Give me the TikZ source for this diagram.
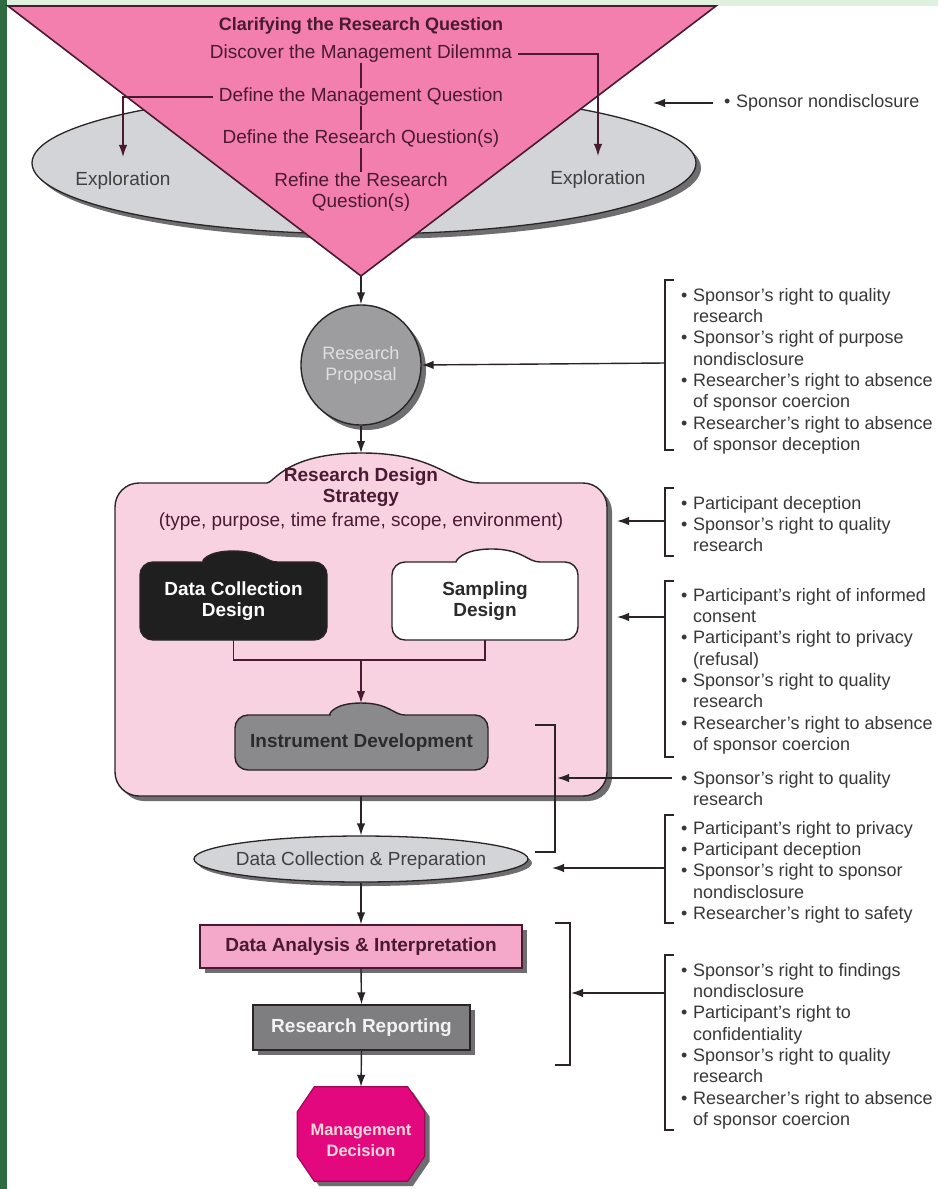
\documentclass[tikz,border=0pt]{standalone}
\usepackage{fontspec}
\setmainfont{Liberation Sans}
\usetikzlibrary{arrows.meta,shapes.geometric,shadows,calc}

\definecolor{bgstrip}{HTML}{2E6B40}
\definecolor{bgband}{HTML}{DDF1DD}
\definecolor{tripink}{HTML}{F27FAE}
\definecolor{maroon}{HTML}{4A1A32}
\definecolor{ink}{HTML}{2A2427}
\definecolor{explgray}{HTML}{D2D4D7}
\definecolor{shadowgray}{HTML}{6E6E70}
\definecolor{propgray}{HTML}{9D9DA0}
\definecolor{strpink}{HTML}{F9D2E2}
\definecolor{idgray}{HTML}{8A8A8D}
\definecolor{dapink}{HTML}{F4A8CA}
\definecolor{rrgray}{HTML}{7E7E81}
\definecolor{mdmagenta}{HTML}{E4087F}
\definecolor{listink}{HTML}{383838}
\definecolor{boxink}{HTML}{2B2B2B}

\newcommand\fsz[2]{\fontsize{#1}{#2}\selectfont}
\newcommand\bl{\makebox[12pt][l]{•}}
\newcommand\ct{\hspace*{12pt}}

% rounded box with a dome on its top edge
% #1 style, #2 x1, #3 y1, #4 x2, #5 y2, #6 dome x1, #7 dome x2, #8 dome top, #9 corner radius
\newcommand\domebox[9]{%
  \path[#1, rounded corners=#9pt] (#7,#3) -- (#4,#3) -- (#4,#5) -- (#2,#5) -- (#2,#3) -- (#6,#3)
    [sharp corners] .. controls ({#6+0.13*(#7-#6)},#3) and ({#6+0.18*(#7-#6)},#8) .. ({0.5*(#6+#7)},#8)
    .. controls ({#7-0.18*(#7-#6)},#8) and ({#7-0.13*(#7-#6)},#3) .. (#7,#3) -- cycle;}

\tikzset{
  ln/.style={draw=ink, line width=1.4pt},
  tln/.style={draw=maroon, line width=1.3pt},
  arr/.style={ln, -{Latex[length=12pt,width=8.5pt]}},
  tarr/.style={tln, -{Latex[length=12pt,width=8.5pt]}},
  brk/.style={draw=ink, line width=1.3pt},
  shd/.style={drop shadow={shadow xshift=5pt, shadow yshift=-5pt, fill=shadowgray, opacity=1}},
  lbl/.style={font=\fsz{19}{21}, align=center, inner sep=0pt},
  blbl/.style={font=\fsz{19}{21}\bfseries, align=center, inner sep=0pt},
  tri/.style={lbl, text=maroon, inner xsep=6pt},
  listtxt/.style={font=\fsz{18}{21.3}, text=listink, align=left, inner sep=0pt, anchor=north west},
}

\begin{document}
\begin{tikzpicture}[x=1pt,y=-1pt]
\useasboundingbox (0,0) rectangle (938,1189);
\fill[white] (0,0) rectangle (938,1189);
\fill[bgband] (0,0) rectangle (938,6);
\fill[bgstrip] (0,0) rectangle (7,1189);

% exploration ellipse behind the funnel
\node[ellipse, minimum width=664pt, minimum height=142pt, inner sep=0pt, fill=explgray,
      draw=ink, line width=1.3pt, shd] (expl) at (364,163) {};

% funnel
\path[fill=tripink, draw=maroon, line width=1.6pt] (8,6) -- (716,6) -- (361,276) -- cycle;
\coordinate (apex) at (361,276);

\node[blbl, font=\fsz{18}{21}\bfseries, text=maroon] (title) at (361,26) {Clarifying the Research Question};
\node[tri] (dil) at (361,54) {Discover the Management Dilemma};
\node[tri] (mq) at (361,97) {Define the Management Question};
\node[tri] (rq) at (361,139) {Define the Research Question(s)};
\node[tri] (ref) at (361,192) {Refine the Research\\Question(s)};

\draw[tln] (dil.south) -- (mq.north);
\draw[tln] (mq.south) -- (rq.north);
\draw[tln] (rq.south) -- (ref.north);

\node[lbl, text=boxink!90] (exl) at (123,181) {Exploration};
\node[lbl, text=boxink!90] (exr) at (598,180) {Exploration};
\draw[tarr] (mq.west) -| ($(exl.north)+(0,-15)$);
\draw[tarr] (dil.east) -| ($(exr.north)+(0,-15)$);

\node[listtxt, anchor=west] (l0) at (724,103) {\bl Sponsor nondisclosure};
\coordinate (t0) at (653,103);
\draw[arr, shorten <=11pt] (l0.west) -- (t0);

% research proposal
\node[circle, minimum size=120pt, inner sep=0pt, fill=propgray, draw=ink, line width=1.4pt, shd,
      lbl, font=\fsz{18}{21}, text=white!88!black] (prop) at (361,365) {Research\\Proposal};
\draw[arr] (apex) -- (prop.north);

% research design strategy
\domebox{fill=strpink, ln, shd}{115}{483}{607}{796}{243}{480}{453}{24}
\node[inner sep=0pt, minimum width=492pt, minimum height=313pt] (rds) at (361,639.5) {};
\coordinate (rdstop) at (361,453);
\node[blbl, text=maroon] (rdst) at (361,487) {Research Design\\Strategy};
\node[lbl, text=maroon] (rdss) at (361,522) {(type, purpose, time frame, scope, environment)};
\draw[arr] (prop.south) -- (rdstop);

% data collection design and sampling design
\domebox{fill=black!88, draw=ink, line width=1.4pt}{140}{562}{327}{640}{190}{277}{551}{13}
\node[blbl, text=white, minimum width=187pt, minimum height=78pt] (dcd) at (233.5,601) {Data Collection\\Design};
\domebox{fill=white, draw=ink, line width=1.4pt}{392}{562}{578}{640}{443}{540}{549}{13}
\node[blbl, text=boxink, minimum width=186pt, minimum height=78pt] (sd) at (485,601) {Sampling\\Design};

\coordinate (join) at (361,660);
\draw[tln] (dcd.south) |- (join) -| (sd.south);

% instrument development
\domebox{fill=idgray, draw=ink, line width=1.4pt}{235}{715}{488}{770}{317}{405}{703}{13}
\node[blbl, text=boxink, minimum width=253pt, minimum height=55pt] (idv) at (361.5,742.5) {Instrument Development};
\coordinate (idtop) at (361,703);
\draw[tarr] (join) -- (idtop);

% data collection & preparation
\node[ellipse, minimum width=334pt, minimum height=46pt, inner sep=0pt, fill=explgray, draw=ink,
      line width=1.3pt, drop shadow={shadow xshift=4pt, shadow yshift=-4pt, fill=shadowgray, opacity=1}] (dcp) at (361,859) {};
\node[lbl, text=boxink!90] (dcpt) at (361,861) {Data Collection \& Preparation};
\draw[arr] (rds.south) -- (dcp.north);

% data analysis & interpretation
\node[rectangle, minimum width=322pt, minimum height=43pt, inner sep=0pt, fill=dapink, draw=maroon,
      line width=1.4pt, shd, blbl, text=maroon] (dai) at (361,946.5) {Data Analysis \& Interpretation};
\draw[arr] (dcp.south) -- (dai.north);

% research reporting
\node[rectangle, minimum width=217pt, minimum height=45pt, inner sep=0pt, fill=rrgray, draw=ink,
      line width=1.4pt, shd, blbl, text=white!95!black] (rr) at (361.5,1027.5) {Research Reporting};
\draw[arr] (dai.south) -- (rr.north);

% management decision
\node[inner sep=0pt, minimum width=127pt, minimum height=94pt] (md) at (361,1134) {};
\path[fill=mdmagenta, draw=mdmagenta!70!black, line width=1.2pt, shd]
  ($(md.north west)+(17,0)$) -- ($(md.north east)+(-17,0)$) -- ($(md.north east)+(0,25)$)
  -- ($(md.south east)+(0,-25)$) -- ($(md.south east)+(-17,0)$) -- ($(md.south west)+(17,0)$)
  -- ($(md.south west)+(0,-25)$) -- ($(md.north west)+(0,25)$) -- cycle;
\node[blbl, font=\fsz{16.5}{21}\bfseries, text=pink!60!white] (mdt) at (361,1140) {Management\\Decision};
\draw[arr] (rr.south) -- (md.north);

% brackets beside the flow
\draw[brk] (535,725) -- (555,725) -- (555,852) -- (535,852);
\draw[brk] (555,923) -- (570,923) -- (570,1065) -- (555,1065);

% issue lists
\draw[brk] (674,280) -- (665,280) -- (665,450) -- (674,450);
\node[listtxt] (l1) at (681,288) {\bl Sponsor's right to quality\\\ct research\\\bl Sponsor's right of purpose\\\ct nondisclosure\\\bl Researcher's right to absence\\\ct of sponsor coercion\\\bl Researcher's right to absence\\\ct of sponsor deception};
\coordinate (b1) at (665,363);
\draw[arr] (b1) -- (prop.east);

\draw[brk] (674,488) -- (665,488) -- (665,556) -- (674,556);
\node[listtxt] (l2) at (681,496) {\bl Participant deception\\\bl Sponsor's right to quality\\\ct research};
\coordinate (b2) at (665,521);
\coordinate (t2) at (617,521);
\draw[arr] (b2) -- (t2);

\draw[brk] (674,581) -- (665,581) -- (665,757) -- (674,757);
\node[listtxt] (l3) at (681,588) {\bl Participant's right of informed\\\ct consent\\\bl Participant's right to privacy\\\ct (refusal)\\\bl Sponsor's right to quality\\\ct research\\\bl Researcher's right to absence\\\ct of sponsor coercion};
\coordinate (b3) at (665,617);
\coordinate (t3) at (617,617);
\draw[arr] (b3) -- (t3);

\node[listtxt] (l4) at (681,771) {\bl Sponsor's right to quality\\\ct research};
\coordinate (s4) at (672,778);
\coordinate (t4) at (557,778);
\draw[arr] (s4) -- (t4);

\draw[brk] (674,815) -- (665,815) -- (665,923) -- (674,923);
\node[listtxt] (l5) at (681,821) {\bl Participant's right to privacy\\\bl Participant deception\\\bl Sponsor's right to sponsor\\\ct nondisclosure\\\bl Researcher's right to safety};
\coordinate (b5) at (665,868);
\coordinate (t5) at (552,868);
\draw[arr] (b5) -- (t5);

\draw[brk] (674,955) -- (665,955) -- (665,1130) -- (674,1130);
\node[listtxt] (l6) at (681,963) {\bl Sponsor's right to findings\\\ct nondisclosure\\\bl Participant's right to\\\ct confidentiality\\\bl Sponsor's right to quality\\\ct research\\\bl Researcher's right to absence\\\ct of sponsor coercion};
\coordinate (b6) at (665,993);
\coordinate (t6) at (571,993);
\draw[arr] (b6) -- (t6);
\end{tikzpicture}
\end{document}
